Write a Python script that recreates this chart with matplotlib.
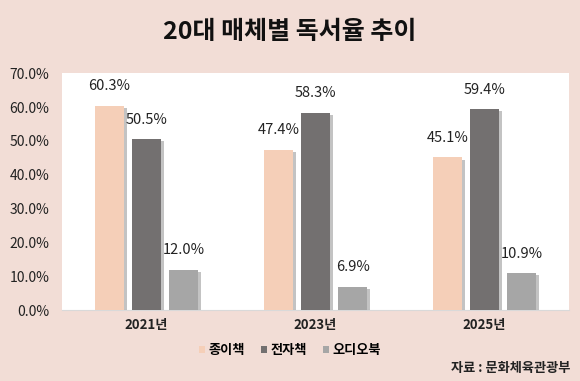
import numpy as np
import matplotlib.pyplot as plt
import matplotlib.patheffects as pe

plt.rcParams['font.family'] = ['Noto Sans CJK KR', 'DejaVu Sans']

# 데이터
years = ['2021년', '2023년', '2025년']
series_names = ['종이책', '전자책', '오디오북']
paper = [60.3, 47.4, 45.1]
ebook = [50.5, 58.3, 59.4]
audio = [12.0, 6.9, 10.9]
colors = ['#f5cfb8', '#737070', '#a6a6a6']

bg = '#f2ddd6'
fig = plt.figure(figsize=(5.8, 3.81), dpi=100, facecolor=bg)
ax = fig.add_axes([0.107, 0.186, 0.874, 0.622])
ax.set_facecolor('white')

x = np.arange(len(years))
width = 0.169
step = 0.22
shadow = [pe.SimplePatchShadow(offset=(2.5, -1.5), shadow_rgbFace='#555555', alpha=0.35), pe.Normal()]

for k, (vals, name) in enumerate(zip([paper, ebook, audio], series_names)):
    bars = ax.bar(x + (k - 1) * step, vals, width, color=colors[k], label=name,
                  path_effects=shadow, zorder=3)
    for b, v in zip(bars, vals):
        ax.annotate(f'{v:.1f}%', (b.get_x() + b.get_width() / 2, v),
                    xytext=(0, 9), textcoords='offset points',
                    ha='center', va='bottom', fontsize=10.5, color='#222222')

ax.set_xlim(-0.5, 2.5)
ax.set_ylim(0, 70)
ax.set_yticks(np.arange(0, 71, 10))
ax.set_yticklabels([f'{t:.1f}%' for t in range(0, 71, 10)], fontsize=10, color='#222222')
ax.set_xticks(x)
ax.set_xticklabels(years, fontsize=9.5, color='#222222', fontweight='bold')
ax.tick_params(axis='both', length=0)
ax.tick_params(axis='y', pad=9)
ax.tick_params(axis='x', pad=6)
for s in ['top', 'right', 'left']:
    ax.spines[s].set_visible(False)
ax.spines['bottom'].set_color('#d9d9d9')

fig.text(0.5, 0.915, '20대 매체별 독서율 추이', ha='center', va='center',
         fontsize=18, fontweight='black', color='#111111')

leg = fig.legend(loc='center', bbox_to_anchor=(0.5, 0.082), ncol=3, frameon=False,
                 prop={'size': 9.5, 'weight': 'bold'}, handlelength=0.45, handleheight=0.45,
                 handletextpad=0.3, columnspacing=1.2)
for h in leg.legend_handles:
    h.set_path_effects([])

fig.text(0.983, 0.035, '자료 : 문화체육관광부', ha='right', va='center',
         fontsize=9.5, fontweight='bold', color='#222222')

fig.savefig('out.png', dpi=100, facecolor=bg)
